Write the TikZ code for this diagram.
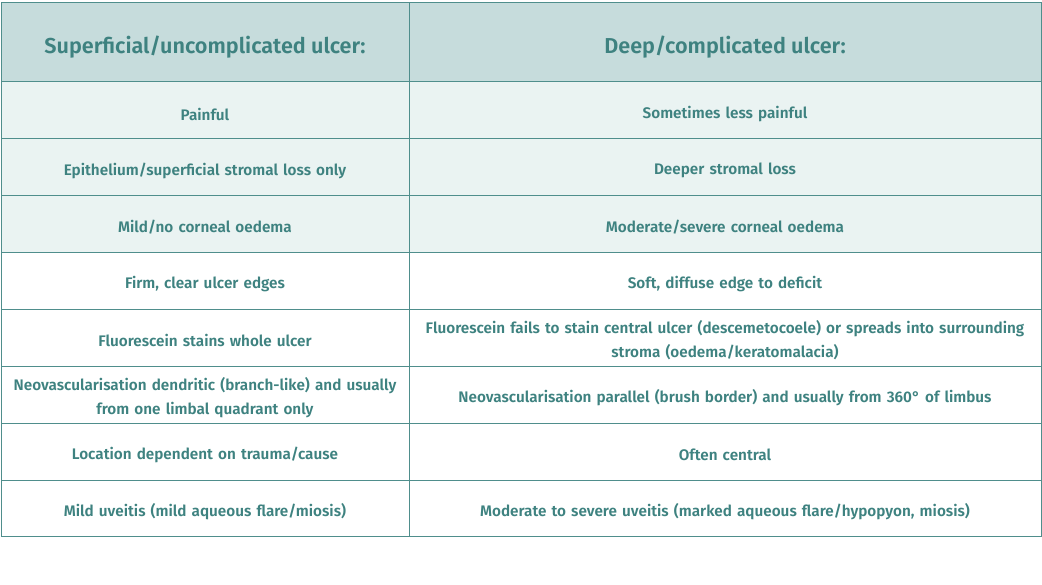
\documentclass[tikz,border=0pt]{standalone}
\usepackage{fontspec}
\setmainfont{Fira Sans SemiBold}
\definecolor{tealtext}{HTML}{3E8280}
\definecolor{headfill}{HTML}{C6DCDC}
\definecolor{rowfill}{HTML}{EAF3F2}
\definecolor{gridline}{HTML}{4F8E8C}
\tikzset{
  cell/.style={text=tealtext,align=center,font=\fontsize{15.3}{24}\selectfont,text width=400pt},
  head/.style={text=tealtext,font=\fontsize{21.6}{25}\selectfont}
}
\begin{document}
\begin{tikzpicture}[x=1pt,y=-1pt]
\useasboundingbox (0,0) rectangle (1042,584);
\fill[headfill] (1,2) rectangle (1041,81);
\fill[rowfill] (1,81) rectangle (1041,252);
% grid
\draw[gridline] (1,2) rectangle (1041,536);
\draw[gridline] (409,2) -- (409,536);
\foreach \y in {81,138,195,252,309,366,423,480}
  \draw[gridline] (1,\y) -- (1041,\y);
% header
\node[head] (hleft) at (205,47) {Superficial/uncomplicated ulcer:};
\node[head] (hright) at (725,47) {Deep/complicated ulcer:};
% rows
\node[cell] (l1) at (205,114.5) {Painful};
\node[cell] (r1) at (725,114.5) {Sometimes less painful};
\node[cell] (l2) at (205,170.5) {Epithelium/superficial stromal loss only};
\node[cell] (r2) at (725,170.5) {Deeper stromal loss};
\node[cell] (l3) at (205,227.5) {Mild/no corneal oedema};
\node[cell] (r3) at (725,227.5) {Moderate/severe corneal oedema};
\node[cell] (l4) at (205,284.5) {Firm, clear ulcer edges};
\node[cell] (r4) at (725,284.5) {Soft, diffuse edge to deficit};
\node[cell] (l5) at (205,340.5) {Fluorescein stains whole ulcer};
\node[cell,text width=640pt] (r5) at (725,340.5) {Fluorescein fails to stain central ulcer (descemetocoele) or spreads into surrounding\\stroma (oedema/keratomalacia)};
\node[cell] (l6) at (205,397.5) {Neovascularisation dendritic (branch-like) and usually\\from one limbal quadrant only};
\node[cell,text width=640pt] (r6) at (725,397.5) {Neovascularisation parallel (brush border) and usually from 360° of limbus};
\node[cell] (l7) at (205,454.5) {Location dependent on trauma/cause};
\node[cell] (r7) at (725,454.5) {Often central};
\node[cell] (l8) at (205,511.5) {Mild uveitis (mild aqueous flare/miosis)};
\node[cell,text width=640pt] (r8) at (725,511.5) {Moderate to severe uveitis (marked aqueous flare/hypopyon, miosis)};
\end{tikzpicture}
\end{document}
